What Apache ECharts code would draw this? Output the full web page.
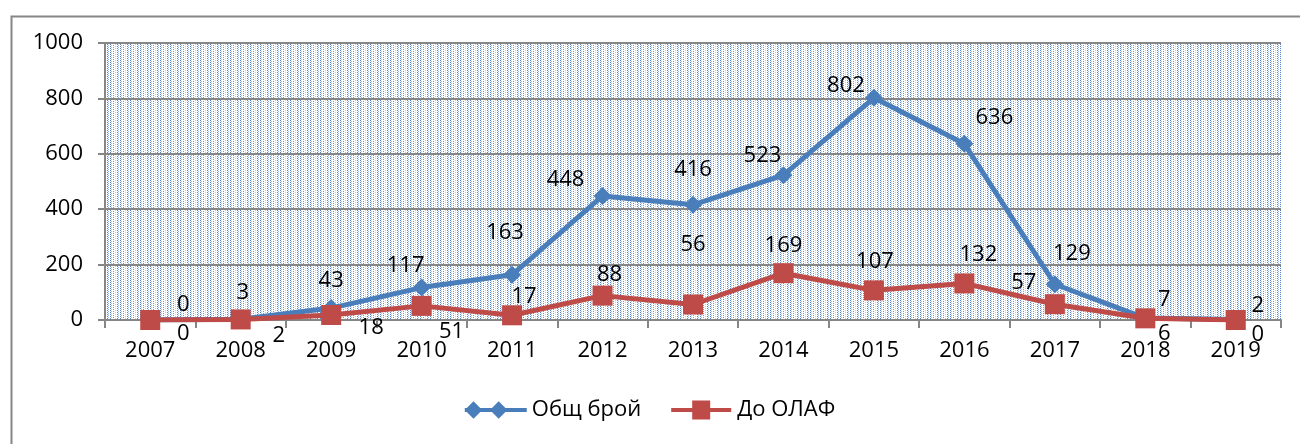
<!DOCTYPE html>
<html>
<head>
<meta charset="utf-8">
<script src="https://cdn.jsdelivr.net/npm/echarts@6/dist/echarts.min.js"></script>
<style>html,body{margin:0;padding:0;background:#fff}#c{width:1300px;height:444px}</style>
</head>
<body>
<div id="c"></div>
<script>
const years = ['2007','2008','2009','2010','2011','2012','2013','2014','2015','2016','2017','2018','2019'];
const totalCount = [0, 3, 43, 117, 163, 448, 416, 523, 802, 636, 129, 7, 2];
const olafCount = [0, 2, 18, 51, 17, 88, 56, 169, 107, 132, 57, 6, 0];
const yTicks = [0, 200, 400, 600, 800, 1000];
const seriesNames = ['Общ брой', 'До ОЛАФ'];

// label placement (style only)
const totalLabelOffsets = [[33,-15],[2,-26],[0,-27],[-16,-22],[-7,-42],[-37,-16],[0,-35],[-21,-19],[-28,-12],[30,-26],[17,-31],[19,-18],[22,-14]];
const olafLabelOffsets = [[33,14],[38,16],[40,13],[30,26],[12,-19],[7,-21],[0,-60],[0,-27],[1,-29],[14,-29],[-31,-21],[19,15],[22,15]];

// legend icons (style only)
const blueIcon = 'path://M0,7 L64,7 L64,11 L0,11 Z M0,9 L9,0 L18,9 L9,18 Z M26,9 L35,0 L44,9 L35,18 Z';
const redIcon = 'path://M0,7.5 L60,7.5 L60,11.5 L0,11.5 Z M21,0 L39,0 L39,19 L21,19 Z';

function makePattern() {
  const c = document.createElement('canvas');
  c.width = 10; c.height = 4;
  const g = c.getContext('2d');
  g.fillStyle = '#ffffff'; g.fillRect(0, 0, 10, 4);
  const dot = (x, y, col) => { g.fillStyle = col; g.fillRect(x, y, 1, 1); };
  dot(0,0,'#4f80c4'); dot(0,2,'#4f80c4');
  dot(1,1,'#a9c3e6'); dot(1,3,'#a9c3e6');
  dot(3,1,'#6f98d2'); dot(3,3,'#6f98d2');
  dot(5,0,'#b8cdea'); dot(5,2,'#b8cdea');
  dot(7,0,'#5a88c8'); dot(7,2,'#5a88c8');
  dot(8,1,'#9bb9e2'); dot(8,3,'#9bb9e2');
  return c;
}

const FONT = 'Open Sans';
const FS = 22;
function buildData(values, offsets) {
  return values.map((v, i) => ({
    value: v,
    label: { offset: offsets[i] }
  }));
}

const chart = echarts.init(document.getElementById('c'), null, { renderer: 'canvas' });
chart.setOption({
  animation: false,
  backgroundColor: '#ffffff',
  textStyle: { fontFamily: FONT },
  graphic: [{
    type: 'rect', left: 9, top: 14, z: -1,
    shape: { width: 1310, height: 450 },
    style: { fill: 'none', stroke: '#868686', lineWidth: 2 }
  }],
  grid: {
    left: 105, right: 19, top: 43, bottom: 124,
    show: true,
    backgroundColor: { image: makePattern(), repeat: 'repeat' },
    borderWidth: 0
  },
  legend: {
    bottom: 18, left: 'center',
    itemWidth: 62, itemHeight: 19, itemGap: 30,
    textStyle: { fontFamily: FONT, fontSize: FS, color: '#000' },
    data: [
      { name: seriesNames[0], icon: blueIcon },
      { name: seriesNames[1], icon: redIcon }
    ]
  },
  xAxis: {
    type: 'category',
    data: years,
    boundaryGap: true,
    axisLine: { lineStyle: { color: '#868686', width: 2 } },
    axisTick: { show: true, interval: 0, length: 8, lineStyle: { color: '#868686', width: 2 } },
    axisLabel: { interval: 0, margin: 20, fontSize: FS, color: '#000', fontFamily: FONT },
    splitLine: { show: false }
  },
  yAxis: {
    type: 'value',
    min: 0, max: 1000, interval: 200,
    axisLine: { show: true, lineStyle: { color: '#868686', width: 2 } },
    axisTick: { show: true, length: 7, lineStyle: { color: '#868686', width: 2 } },
    axisLabel: { margin: 22, fontSize: FS, color: '#000', fontFamily: FONT,
      formatter: v => yTicks.includes(v) ? String(v) : '' },
    splitLine: { show: true, lineStyle: { color: '#868686', width: 2 } }
  },
  series: [
    {
      name: seriesNames[0], type: 'line',
      data: buildData(totalCount, totalLabelOffsets),
      symbol: 'diamond', symbolSize: 18,
      lineStyle: { color: '#4a7ebb', width: 5 },
      itemStyle: { color: '#4a7ebb' },
      label: { show: true, position: 'inside', fontSize: FS, color: '#000', fontFamily: FONT },
      z: 3
    },
    {
      name: seriesNames[1], type: 'line',
      data: buildData(olafCount, olafLabelOffsets),
      symbol: 'rect', symbolSize: 20,
      lineStyle: { color: '#be4b48', width: 5 },
      itemStyle: { color: '#be4b48' },
      label: { show: true, position: 'inside', fontSize: FS, color: '#000', fontFamily: FONT },
      z: 4
    }
  ]
});
</script>
</body>
</html>
